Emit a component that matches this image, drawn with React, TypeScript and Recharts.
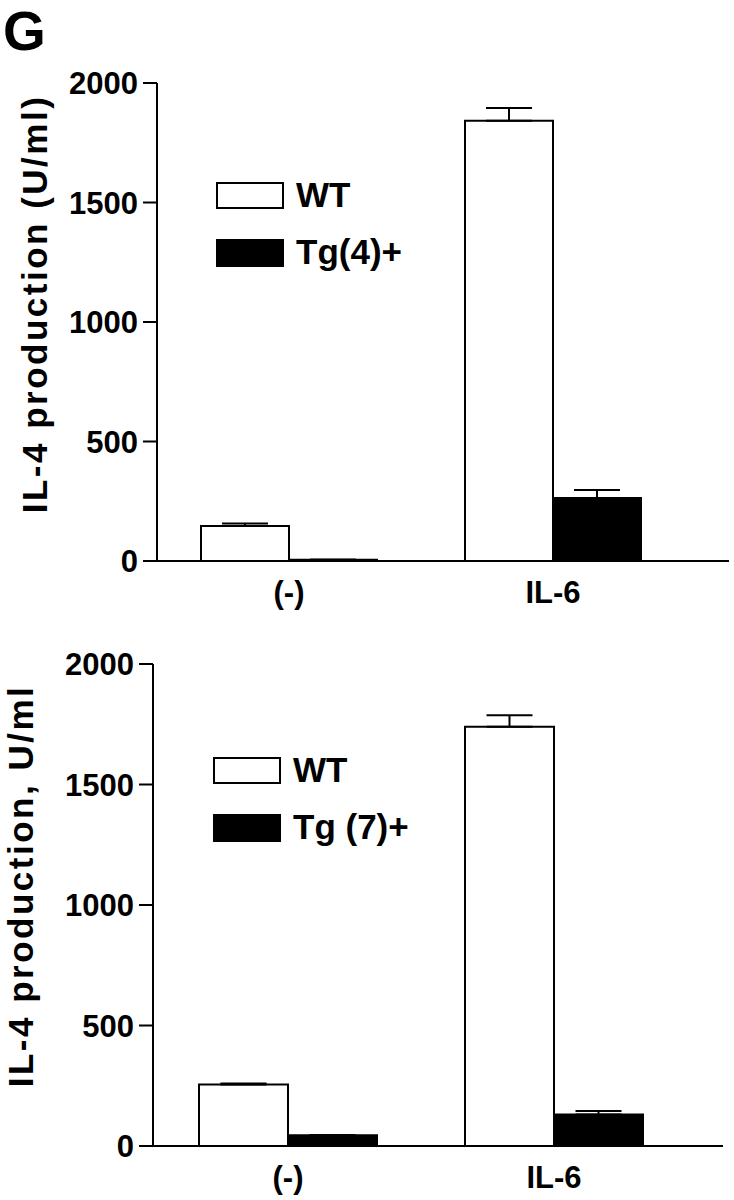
import React from 'react';
import { BarChart, Bar, XAxis, YAxis, ErrorBar, Legend } from 'recharts';

const FONT = '"Liberation Sans", Arial, Helvetica, sans-serif';

const categories = ['(-)', 'IL-6'];
const yTicks = [0, 500, 1000, 1500, 2000];

// upper panel, Tg(4)+
const wt4 = [146, 1842];
const wt4Err = [11, 53];
const tg4 = [5, 264];
const tg4Err = [0, 33];

// lower panel, Tg (7)+
const wt7 = [255, 1740];
const wt7Err = [4, 47];
const tg7 = [45, 131];
const tg7Err = [0, 14];

const buildRows = (wt: number[], wtErr: number[], tg: number[], tgErr: number[]) =>
  categories.map((name, i) => ({
    name,
    wt: wt[i],
    wtErr: [0, wtErr[i]],
    tg: tg[i],
    tgErr: [0, tgErr[i]],
  }));

const tickStyle = { fill: '#000', fontSize: 31, fontWeight: 'bold', fontFamily: FONT };
const axisLine = { stroke: '#000', strokeWidth: 2 };

const LegendContent: React.FC<any> = ({ payload }) => {
  if (!payload) return null;
  return (
    <div style={{ position: 'relative', width: 220, height: 90, fontFamily: FONT }}>
      {payload.map((entry: any) => {
        const isWt = entry.dataKey === 'wt';
        // WT row always on top, Tg row below it
        const top = isWt ? 0 : 57;
        return (
          <React.Fragment key={entry.value}>
            <div
              style={{
                position: 'absolute',
                left: 0,
                top,
                width: 68,
                height: isWt ? 27 : 28,
                boxSizing: 'border-box',
                border: '2px solid #000',
                background: isWt ? '#fff' : '#000',
              }}
            />
            <div
              style={{
                position: 'absolute',
                left: 80,
                top: top - 5,
                fontSize: 35,
                lineHeight: '35px',
                fontWeight: 'bold',
                color: '#000',
                whiteSpace: 'nowrap',
              }}
            >
              {entry.value}
            </div>
          </React.Fragment>
        );
      })}
    </div>
  );
};

interface PanelProps {
  rows: any[];
  tgName: string;
  yLabel: string;
  height: number;
  margin: { top: number; right: number; bottom: number; left: number };
  yWidth: number;
  xHeight: number;
  xPadding: { left: number; right: number };
  barSize: number;
  labelX: number;
  labelShift: number;
  legendPos: { left: number; top: number };
}

const Panel: React.FC<PanelProps> = (p) => {
  const renderYLabel = (props: any) => {
    const vb = props.viewBox;
    const cx = vb.x + p.labelX;
    const cy = vb.y + vb.height / 2 + p.labelShift;
    return (
      <text
        transform={`translate(${cx},${cy}) rotate(-90)`}
        textAnchor="middle"
        fontSize={35}
        fontWeight="bold"
        letterSpacing={2.5}
        fontFamily={FONT}
        fill="#000"
      >
        {p.yLabel}
      </text>
    );
  };

  return (
    <BarChart width={734} height={p.height} data={p.rows} margin={p.margin} barGap={0} barSize={p.barSize}>
      <XAxis
        dataKey="name"
        height={p.xHeight}
        padding={p.xPadding}
        axisLine={axisLine}
        tickLine={false}
        tickSize={0}
        tickMargin={20}
        tick={tickStyle}
      />
      <YAxis
        width={p.yWidth}
        domain={[0, 2000]}
        ticks={yTicks}
        interval={0}
        axisLine={axisLine}
        tickLine={axisLine}
        tickSize={14}
        tickMargin={5}
        tick={tickStyle}
        label={renderYLabel}
      />
      <Legend
        layout="vertical"
        align="center"
        verticalAlign="middle"
        content={<LegendContent />}
        wrapperStyle={{ left: p.legendPos.left, top: p.legendPos.top, width: 220, height: 90 }}
      />
      <Bar dataKey="wt" name="WT" fill="#fff" stroke="#000" strokeWidth={2} isAnimationActive={false}>
        <ErrorBar dataKey="wtErr" width={23} stroke="#000" strokeWidth={2} direction="y" />
      </Bar>
      <Bar dataKey="tg" name={p.tgName} fill="#000" stroke="#000" strokeWidth={2} isAnimationActive={false}>
        <ErrorBar dataKey="tgErr" width={23} stroke="#000" strokeWidth={2} direction="y" />
      </Bar>
    </BarChart>
  );
};

export default function App() {
  return (
    <div style={{ position: 'absolute', left: 0, top: 0, width: 734, height: 1200, background: '#fff' }}>
      <svg width={80} height={62} style={{ position: 'absolute', left: 0, top: 0 }}>
        <text x={3} y={50} fontSize={55} fontWeight="bold" fontFamily={FONT} fill="#000">
          G
        </text>
      </svg>
      <div style={{ position: 'absolute', left: 0, top: 0 }}>
        <Panel
          rows={buildRows(wt4, wt4Err, tg4, tg4Err)}
          tgName="Tg(4)+"
          yLabel="IL-4 production (U/ml)"
          height={620}
          margin={{ top: 83, right: 5, bottom: 0, left: 0 }}
          yWidth={157}
          xHeight={59}
          xPadding={{ left: 0, right: 44 }}
          barSize={88}
          labelX={47}
          labelShift={-18}
          legendPos={{ left: 216, top: 182 }}
        />
      </div>
      <div style={{ position: 'absolute', left: 0, top: 620 }}>
        <Panel
          rows={buildRows(wt7, wt7Err, tg7, tg7Err)}
          tgName="Tg (7)+"
          yLabel="IL-4 production, U/ml"
          height={580}
          margin={{ top: 44, right: 11, bottom: 0, left: 0 }}
          yWidth={153}
          xHeight={54}
          xPadding={{ left: 2, right: 36 }}
          barSize={89}
          labelX={33}
          labelShift={-19}
          legendPos={{ left: 213, top: 137 }}
        />
      </div>
    </div>
  );
}
